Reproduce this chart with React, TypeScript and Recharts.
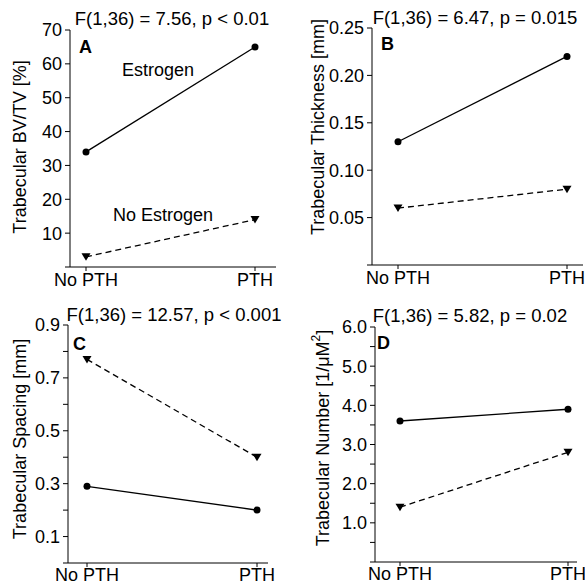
import React from "react";
import { LineChart, Line, XAxis, YAxis } from "recharts";

const groups = ["No PTH", "PTH"];

// Panel A - BV/TV [%]
const bvtvEstrogen = [34, 65];
const bvtvNoEstrogen = [3, 14];
const bvtvTicks = [0, 10, 20, 30, 40, 50, 60, 70];

// Panel B - thickness [mm]
const thickEstrogen = [0.13, 0.22];
const thickNoEstrogen = [0.06, 0.08];
const thickTicks = [0, 0.05, 0.1, 0.15, 0.2, 0.25];

// Panel C - spacing [mm]
const spacingEstrogen = [0.29, 0.2];
const spacingNoEstrogen = [0.77, 0.4];
const spacingTicks = [0, 0.1, 0.2, 0.3, 0.4, 0.5, 0.6, 0.7, 0.8, 0.9];

// Panel D - number [1/uM^2]
const numberEstrogen = [3.6, 3.9];
const numberNoEstrogen = [1.4, 2.8];
const numberTicks = [0, 0.5, 1, 1.5, 2, 2.5, 3, 3.5, 4, 4.5, 5, 5.5, 6];

const FONT = '"Liberation Sans", Arial, Helvetica, sans-serif';

const rows = (est: number[], noEst: number[]) =>
  groups.map((g, i) => ({ group: g, estrogen: est[i], noEstrogen: noEst[i] }));

const CircleDot = (p: any) => {
  if (p.cx == null || p.cy == null) return null;
  return <circle key={p.index} cx={p.cx} cy={p.cy} r={3.5} fill="#000" />;
};

const TriDot = (p: any) => {
  if (p.cx == null || p.cy == null) return null;
  const { cx, cy } = p;
  return (
    <polygon
      key={p.index}
      points={`${cx - 4.5},${cy - 3.5} ${cx + 4.5},${cy - 3.5} ${cx},${cy + 4}`}
      fill="#000"
    />
  );
};

interface PanelProps {
  left: number;
  top: number;
  width: number;
  height: number;
  margin: { top: number; right: number; bottom: number; left: number };
  yWidth: number;
  xHeight: number;
  padding: { left: number; right: number };
  data: any[];
  ticks: number[];
  fmt: (v: number) => string;
  title: string;
  titleX: number;
  titleY: number;
  letter: string;
  letterX: number;
  letterY: number;
  ylabel: React.ReactNode;
  ylabelX: number;
  ylabelY: number;
  xTickMargin: number;
  children?: React.ReactNode;
}

function Panel(p: PanelProps) {
  const max = p.ticks[p.ticks.length - 1];
  const tickStyle = { fill: "#000", fontSize: 18, fontFamily: FONT };
  return (
    <div style={{ position: "absolute", left: p.left, top: p.top }}>
      <LineChart width={p.width} height={p.height} data={p.data} margin={p.margin}>
        <XAxis
          dataKey="group"
          height={p.xHeight}
          padding={p.padding}
          tick={tickStyle}
          tickSize={4}
          tickMargin={p.xTickMargin}
          stroke="#000"
          interval={0}
        />
        <XAxis xAxisId="top" dataKey="group" orientation="top" height={0} tick={false} tickLine={false} stroke="#000" padding={p.padding} />
        <YAxis
          width={p.yWidth}
          domain={[0, max]}
          ticks={p.ticks}
          tickFormatter={p.fmt}
          tick={tickStyle}
          tickSize={5}
          tickMargin={3}
          stroke="#000"
          interval={0}
        />
        <YAxis yAxisId="right" orientation="right" width={0} tick={false} tickLine={false} stroke="#000" domain={[0, max]} />
        <Line
          dataKey="estrogen"
          stroke="#000"
          strokeWidth={1.3}
          dot={CircleDot}
          activeDot={false}
          isAnimationActive={false}
        />
        <Line
          dataKey="noEstrogen"
          stroke="#000"
          strokeWidth={1.3}
          strokeDasharray="6 4"
          dot={TriDot}
          activeDot={false}
          isAnimationActive={false}
        />
        <text x={p.titleX} y={p.titleY} textAnchor="middle" fontSize={18.5} fontFamily={FONT} fill="#000">
          {p.title}
        </text>
        <text x={p.letterX} y={p.letterY} fontSize={18} fontWeight="bold" fontFamily={FONT} fill="#000">
          {p.letter}
        </text>
        <text
          x={p.ylabelX}
          y={p.ylabelY}
          transform={`rotate(-90 ${p.ylabelX} ${p.ylabelY})`}
          textAnchor="middle"
          dominantBaseline="central"
          fontSize={18}
          fontFamily={FONT}
          fill="#000"
        >
          {p.ylabel}
        </text>
        {p.children}
      </LineChart>
    </div>
  );
}

const int = (v: number) => (v === 0 ? "" : String(v));
const two = (v: number) => (v === 0 ? "" : v.toFixed(2));
const oddTenth = (v: number) => {
  const k = Math.round(v * 10);
  return k % 2 === 1 ? v.toFixed(1) : "";
};
const wholeOne = (v: number) => (v > 0 && Math.abs(v - Math.round(v)) < 1e-6 ? v.toFixed(1) : "");

export default function App() {
  return (
    <div style={{ position: "absolute", left: 0, top: 0, width: 585, height: 587, background: "#fff", fontFamily: FONT }}>
      <Panel
        left={0}
        top={0}
        width={292}
        height={292}
        margin={{ top: 30, right: 16, bottom: 0, left: 0 }}
        yWidth={70}
        xHeight={25}
        padding={{ left: 16, right: 21 }}
        data={rows(bvtvEstrogen, bvtvNoEstrogen)}
        ticks={bvtvTicks}
        fmt={int}
        title="F(1,36) = 7.56, p < 0.01"
        titleX={172}
        titleY={25}
        letter="A"
        letterX={79}
        letterY={53}
        ylabel="Trabecular BV/TV [%]"
        ylabelX={20}
        ylabelY={147}
        xTickMargin={2}
      >
        <text x={122} y={76} fontSize={18} fontFamily={FONT} fill="#000">Estrogen</text>
        <text x={113} y={221} fontSize={18} fontFamily={FONT} fill="#000">No Estrogen</text>
      </Panel>
      <Panel
        left={292}
        top={0}
        width={293}
        height={292}
        margin={{ top: 28, right: 2, bottom: 0, left: 0 }}
        yWidth={80}
        xHeight={27}
        padding={{ left: 26, right: 16 }}
        data={rows(thickEstrogen, thickNoEstrogen)}
        ticks={thickTicks}
        fmt={two}
        title="F(1,36) = 6.47, p = 0.015"
        titleX={183}
        titleY={24}
        letter="B"
        letterX={89}
        letterY={50}
        ylabel="Trabecular Thickness [mm]"
        ylabelX={26}
        ylabelY={127}
        xTickMargin={2}
      />
      <Panel
        left={0}
        top={292}
        width={292}
        height={295}
        margin={{ top: 33, right: 24, bottom: 0, left: 0 }}
        yWidth={68}
        xHeight={24}
        padding={{ left: 19, right: 11 }}
        data={rows(spacingEstrogen, spacingNoEstrogen)}
        ticks={spacingTicks}
        fmt={oddTenth}
        title="F(1,36) = 12.57, p < 0.001"
        titleX={174}
        titleY={29}
        letter="C"
        letterX={73}
        letterY={58}
        ylabel="Trabecular Spacing [mm]"
        ylabelX={20}
        ylabelY={147}
        xTickMargin={1}
      />
      <Panel
        left={292}
        top={292}
        width={293}
        height={295}
        margin={{ top: 35, right: 8, bottom: 0, left: 0 }}
        yWidth={83}
        xHeight={25}
        padding={{ left: 25, right: 9 }}
        data={rows(numberEstrogen, numberNoEstrogen)}
        ticks={numberTicks}
        fmt={wholeOne}
        title="F(1,36) = 5.82, p = 0.02"
        titleX={178}
        titleY={30}
        letter="D"
        letterX={85}
        letterY={57}
        ylabel={
          <>
            <tspan>Trabecular Number [1/μM</tspan>
            <tspan fontSize={12} dy={-7}>2</tspan>
            <tspan dy={7}>]</tspan>
          </>
        }
        ylabelX={31}
        ylabelY={146}
        xTickMargin={1}
      />
    </div>
  );
}
